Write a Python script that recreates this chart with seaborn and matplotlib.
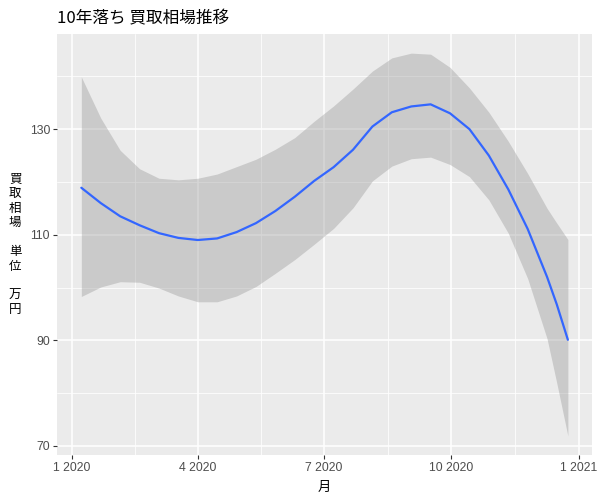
import numpy as np
import pandas as pd
import matplotlib
matplotlib.use("Agg")
import matplotlib.pyplot as plt
import matplotlib.dates as mdates
import matplotlib.ticker as mticker
import seaborn as sns

# 読み取った平滑化曲線 (loess) と信頼区間
fechas = ["2020-01-08", "2020-01-22", "2020-02-05", "2020-02-19", "2020-03-04",
          "2020-03-18", "2020-04-01", "2020-04-15", "2020-04-29", "2020-05-13",
          "2020-05-27", "2020-06-10", "2020-06-24", "2020-07-08", "2020-07-22",
          "2020-08-05", "2020-08-19", "2020-09-02", "2020-09-16", "2020-09-30",
          "2020-10-14", "2020-10-28", "2020-11-11", "2020-11-25", "2020-12-09",
          "2020-12-16", "2020-12-24"]
media = [118.9, 116.0, 113.5, 111.8, 110.3, 109.4, 109.0, 109.3, 110.5, 112.2,
         114.5, 117.2, 120.2, 122.8, 126.1, 130.5, 133.2, 134.3, 134.7, 133.0,
         130.0, 125.0, 118.6, 111.1, 102.0, 96.8, 90.1]
superior = [139.9, 132.1, 126.0, 122.5, 120.7, 120.4, 120.7, 121.5, 122.9, 124.3,
            126.2, 128.4, 131.5, 134.4, 137.6, 141.0, 143.5, 144.4, 144.2, 141.7,
            137.8, 133.2, 127.7, 121.6, 115.0, 112.2, 109.1]
inferior = [98.3, 100.1, 101.1, 101.0, 99.9, 98.4, 97.3, 97.3, 98.4, 100.2,
            102.7, 105.3, 108.2, 111.2, 115.1, 120.2, 123.0, 124.4, 124.7, 123.3,
            121.0, 116.6, 110.3, 101.7, 90.3, 81.9, 71.9]

titulo = "10年落ち 買取相場推移"
etiqueta_x = "月"
etiqueta_y = "買\n取\n相\n場\n\n単\n位\n\n万\n円"

df = pd.DataFrame({"fecha": pd.to_datetime(fechas), "media": media,
                   "sup": superior, "inf": inferior})

sns.set_theme(style="darkgrid", rc={
    "axes.facecolor": "#EBEBEB",
    "grid.color": "white",
    "axes.edgecolor": "#EBEBEB",
})
plt.rcParams['font.family'] = ['Noto Sans CJK JP', 'DejaVu Sans']
fuente_num = ['Liberation Sans', 'DejaVu Sans']

fig = plt.figure(figsize=(6, 5), dpi=100)
ax = fig.add_axes([0.095, 0.09, 0.892, 0.842])

ax.fill_between(df["fecha"], df["inf"], df["sup"], color="#999999",
                alpha=0.4, linewidth=0, zorder=2)
sns.lineplot(data=df, x="fecha", y="media", color="#3366FF", linewidth=1.6,
             ax=ax, zorder=3)

ax.xaxis.set_major_locator(mdates.MonthLocator(bymonth=[1, 4, 7, 10]))
ax.xaxis.set_major_formatter(mticker.FuncFormatter(
    lambda v, p: f"{mdates.num2date(v).month} {mdates.num2date(v).year}"))
ax.set_yticks([70, 90, 110, 130])

# 副目盛り = 主目盛りの中間
ax.figure.canvas.draw()
xt = ax.get_xticks()
ax.xaxis.set_minor_locator(mticker.FixedLocator((xt[:-1] + xt[1:]) / 2))
yt = np.array([70, 90, 110, 130, 150])
ax.yaxis.set_minor_locator(mticker.FixedLocator((yt[:-1] + yt[1:]) / 2))

ax.grid(which="major", color="white", linewidth=1.1)
ax.grid(which="minor", color="white", linewidth=0.55)
for s in ax.spines.values():
    s.set_visible(False)

ax.tick_params(axis="both", which="major", length=3, width=0.8,
               color="#333333", labelcolor="#4D4D4D", labelsize=8.8, pad=2,
               bottom=True, left=True)
ax.tick_params(axis="both", which="minor", length=0)
for lab in ax.get_xticklabels() + ax.get_yticklabels():
    lab.set_family(fuente_num)

ax.set_title(titulo, loc="left", fontsize=12, color="black", pad=8)
ax.set_xlabel(etiqueta_x, fontsize=9.5, color="black", labelpad=5)
ax.set_ylabel(etiqueta_y, fontsize=9, color="black", rotation=0,
              ha="center", va="center", linespacing=1.15)
ax.yaxis.set_label_coords(-0.078, 0.5)

fig.savefig("out.png", dpi=100)
